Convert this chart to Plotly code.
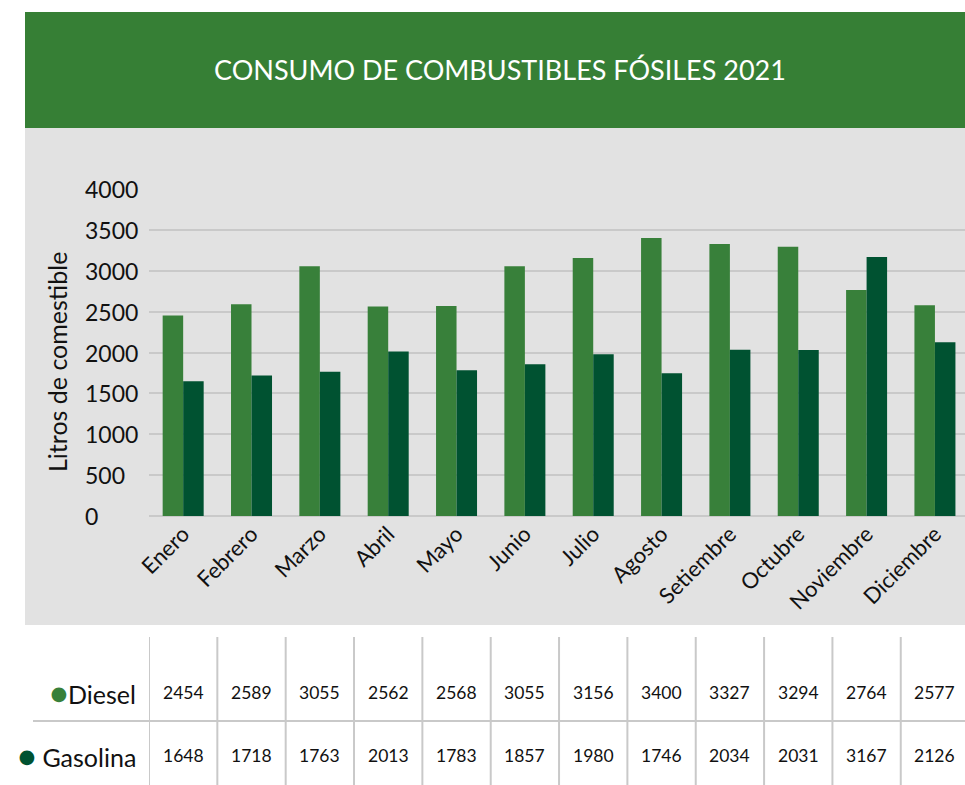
import plotly.graph_objects as go

# Monthly fossil fuel consumption, 2021 (litres)
meses = ["Enero", "Febrero", "Marzo", "Abril", "Mayo", "Junio", "Julio",
         "Agosto", "Setiembre", "Octubre", "Noviembre", "Diciembre"]
diesel = [2454, 2589, 3055, 2562, 2568, 3055, 3156, 3400, 3327, 3294, 2764, 2577]
gasolina = [1648, 1718, 1763, 2013, 1783, 1857, 1980, 1746, 2034, 2031, 3167, 2126]
y_ticks = [0, 500, 1000, 1500, 2000, 2500, 3000, 3500, 4000]

W, H = 965, 785
FONT = "Lato"
C_DIESEL = "#38803A"
C_GAS = "#005231"
C_HEADER = "#367F35"
C_PANEL = "#E2E2E2"
C_GRID = "#C9C9C9"
C_TEXT = "#111111"


def px(x):
    return x / W


def py(y):
    return 1 - y / H


def label(text, x, y, size, xref="paper", yref="paper", xanchor="center",
          color=C_TEXT, **kw):
    return dict(text=text, xref=xref, yref=yref, x=x, y=y, xanchor=xanchor,
                yanchor="middle", showarrow=False,
                font=dict(family=FONT, size=size, color=color), **kw)


def dot(color):
    return f"<span style='color:{color};font-size:30px'>●</span>"


fig = go.Figure()
fig.add_bar(x=meses, y=diesel, name="Diesel", marker_color=C_DIESEL,
            marker_line_width=0)
fig.add_bar(x=meses, y=gasolina, name="Gasolina", marker_color=C_GAS,
            marker_line_width=0)

shapes = [
    # header band and grey chart panel
    dict(type="rect", xref="paper", yref="paper", x0=px(25), x1=1,
         y0=py(128), y1=py(12), fillcolor=C_HEADER, line_width=0, layer="below"),
    dict(type="rect", xref="paper", yref="paper", x0=px(25), x1=1,
         y0=py(625), y1=py(128), fillcolor=C_PANEL, line_width=0, layer="below"),
    # table row separator
    dict(type="line", xref="paper", yref="paper", x0=px(33), x1=1,
         y0=py(721), y1=py(721), line=dict(color=C_GRID, width=2)),
]
# table column separators on the category boundaries
for i in range(len(meses)):
    shapes.append(dict(type="line", xref="x", yref="paper", x0=i - 0.5, x1=i - 0.5,
                       y0=py(785), y1=py(637), line=dict(color=C_GRID, width=2)))

annotations = [
    label("CONSUMO DE COMBUSTIBLES FÓSILES 2021", px(500), py(70), 27,
          color="white"),
    label("Litros de comestible", px(57), py(362), 25, textangle=-90),
    label(f"{dot(C_DIESEL)}Diesel", px(138), py(692), 25, xanchor="right"),
    label(f"{dot(C_GAS)} Gasolina", px(138), py(755), 25, xanchor="right"),
]
# left-aligned y tick labels
for t in y_ticks:
    annotations.append(label(str(t), px(83), t, 23, yref="y", xanchor="left"))
# data table values
for m, d, g in zip(meses, diesel, gasolina):
    annotations.append(label(str(d), m, py(692), 17.5, xref="x"))
    annotations.append(label(str(g), m, py(755), 17.5, xref="x"))

fig.update_layout(
    width=W, height=H,
    margin=dict(l=0, r=0, t=0, b=0, autoexpand=False),
    paper_bgcolor="white",
    plot_bgcolor="rgba(0,0,0,0)",
    barmode="group", bargap=0.40, bargroupgap=0,
    showlegend=False,
    font=dict(family=FONT, color=C_TEXT),
    shapes=shapes,
    annotations=annotations,
    xaxis=dict(domain=[px(149), 1], range=[-0.5, 11.44], tickangle=-45,
               showgrid=False, showline=False, ticks="", zeroline=False,
               automargin=False,
               tickfont=dict(family=FONT, size=22, color=C_TEXT)),
    yaxis=dict(domain=[py(516), py(189)], range=[0, 4000], tickvals=y_ticks,
               showticklabels=False, showgrid=True, gridcolor=C_GRID,
               gridwidth=1.5, zeroline=True, zerolinecolor=C_GRID,
               zerolinewidth=1.5, showline=False, ticks="", automargin=False),
)

fig.write_html("out.html")
